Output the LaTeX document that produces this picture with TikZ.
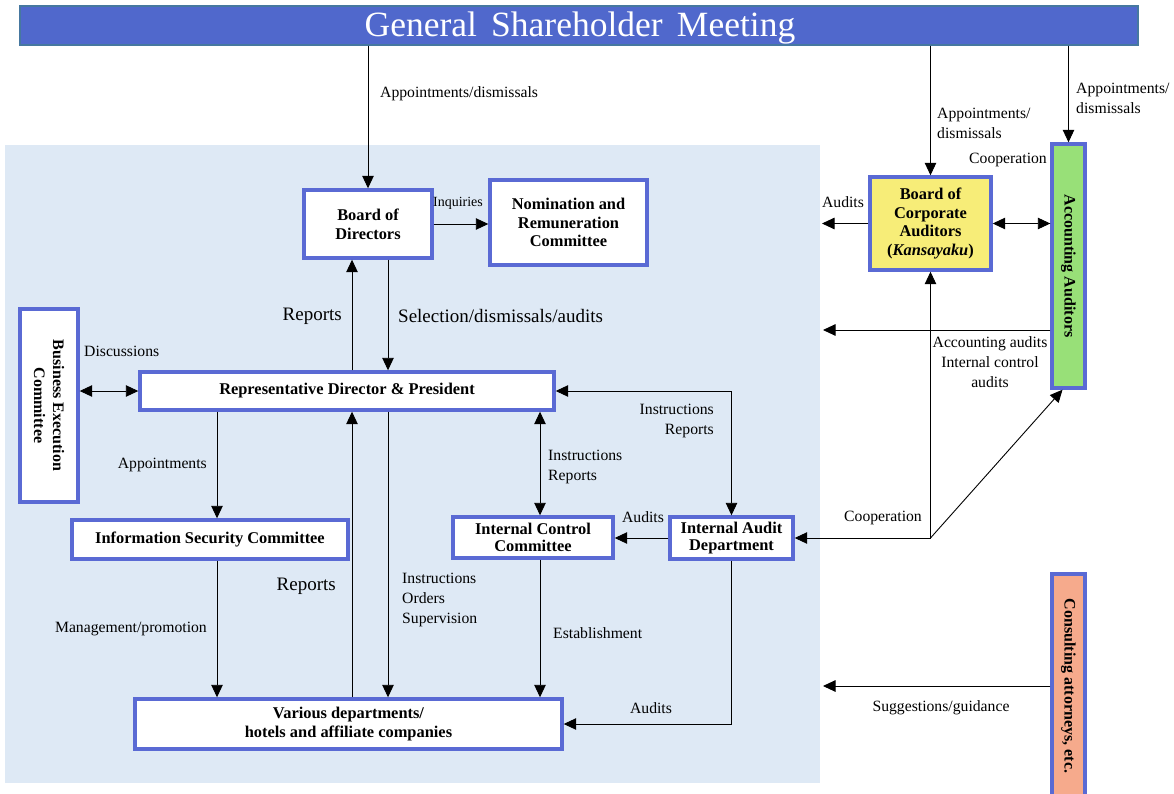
\documentclass[tikz,border=0pt]{standalone}
\usepackage{fontspec}
\setmainfont{Liberation Serif}
\usetikzlibrary{arrows.meta}
\definecolor{barfill}{RGB}{80,104,204}
\definecolor{barline}{RGB}{70,120,160}
\definecolor{boxline}{RGB}{90,106,212}
\definecolor{bgblue}{RGB}{222,233,245}
\definecolor{yel}{RGB}{247,237,120}
\definecolor{grn}{RGB}{152,224,120}
\definecolor{sal}{RGB}{246,170,140}
\tikzset{
  box/.style={draw=boxline, line width=3.4pt, fill=white, align=center, inner sep=0pt,
    font=\fontsize{16.4}{18.8}\selectfont\bfseries},
  arr/.style={line width=0.9pt, -{Triangle[length=12.5pt,width=11.5pt]}},
  dbl/.style={line width=0.9pt, {Triangle[length=12.5pt,width=11.5pt]}-{Triangle[length=12.5pt,width=11.5pt]}},
  lab/.style={inner sep=0pt, align=left, font=\fontsize{15.7}{20}\selectfont},
  biglab/.style={inner sep=0pt, align=left, font=\fontsize{19}{22}\selectfont},
}
\begin{document}
\begin{tikzpicture}[x=1pt,y=-1pt]
\useasboundingbox (0,0) rectangle (1174,794);
\clip (0,0) rectangle (1174,794);
\fill[white] (0,0) rectangle (1174,794);
\fill[bgblue] (5,145) rectangle (820,783);

% nodes
\node[fill=barfill, draw=barline, line width=1.2pt, minimum width=1118pt, minimum height=39pt,
  inner sep=0pt] (gsm) at (579,25.5) {};
\node[inner sep=0pt, text=white, font=\fontsize{35.5}{40}\selectfont] (gsmtext) at (580,28) {General\hspace{0.4em}Shareholder\hspace{0.4em}Meeting};
\node[box, minimum width=128pt, minimum height=68pt] (bod) at (368,224) {Board of\\Directors};
\node[box, minimum width=157pt, minimum height=85pt] (nom) at (568.5,222.5) {Nomination and\\Remuneration\\Committee};
\node[box, minimum width=58pt, minimum height=193pt] (bec) at (49,405.5) {};
\node[rotate=-90, inner sep=0pt, align=center, font=\fontsize{16}{19}\selectfont\bfseries] (bectext) at (bec.center) {Business Execution\\Committee};
\node[box, minimum width=414pt, minimum height=38pt] (rep) at (347,391) {Representative Director \& President};
\node[box, minimum width=276pt, minimum height=39pt] (isc) at (210,539.5) {Information Security Committee};
\node[box, minimum width=160pt, minimum height=41pt, font=\fontsize{16.4}{17}\selectfont\bfseries] (icc) at (533,537.5) {Internal Control\\Committee};
\node[box, minimum width=123pt, minimum height=42pt, font=\fontsize{16.4}{17}\selectfont\bfseries] (iad) at (731.5,538) {Internal Audit\\Department};
\node[box, minimum width=427pt, minimum height=50pt] (var) at (348.5,724) {Various departments/\\hotels and affiliate companies};
\node[box, fill=yel, minimum width=121pt, minimum height=93pt] (bca) at (930.5,223.5) {Board of\\Corporate\\Auditors\\(\textit{Kansayaku})};
\node[box, fill=grn, minimum width=33pt, minimum height=244pt] (acc) at (1068.5,266) {};
\node[rotate=-90, inner sep=0pt, font=\fontsize{16}{19}\selectfont\bfseries] (acctext) at (acc.center) {Accounting Auditors};
\node[box, fill=sal, minimum width=33pt, minimum height=240pt] (con) at (1068.5,694) {};
\node[rotate=-90, inner sep=0pt, font=\fontsize{16}{19}\selectfont\bfseries] (context) at (1068.5,686) {Consulting attorneys, etc.};

% free ends
\coordinate (a1) at (822,221);
\coordinate (a2) at (823,330);
\coordinate (a3) at (823,686);
\coordinate (j) at (bca.south |- iad.east);

% connectors
\draw[arr] (gsm.south -| bod.north) -- (bod.north);
\node[lab, anchor=west] (l1) at (380,94) {Appointments/dismissals};
\draw[arr] (gsm.south -| bca.north) -- (bca.north);
\node[lab, anchor=west] (l2) at (937,123) {Appointments/\\dismissals};
\draw[arr] (gsm.south -| acc.north) -- (acc.north);
\node[lab, anchor=west] (l3) at (1076,98) {Appointments/\\dismissals};

\draw[dbl] (bca.east) -- (bca.east -| acc.west);
\node[lab, anchor=east] (l4) at (1047,160) {Cooperation};
\draw[arr] (bca.west) -- (bca.west -| a1);
\node[lab] (l5) at (843,202) {Audits};
\draw[arr] (acc.west |- a2) -- (a2);
\node[lab, align=center] (l6) at (990,362) {Accounting audits\\Internal control\\audits};

\draw[arr] (j) -- (iad.east);
\draw[arr] (j) -- (bca.south);
\draw[arr] (j) -- ([xshift=-6pt]acc.south);
\node[lab, anchor=east] (l7) at (922,518) {Cooperation};

\draw[arr] (bod.east) -- (nom.west |- bod.east);
\node[inner sep=0pt, font=\fontsize{14}{16}\selectfont] (l8) at (458,203) {Inquiries};

\draw[arr] ([xshift=5pt]rep.north) -- ([xshift=5pt]rep.north |- bod.south);
\draw[arr] ([xshift=20pt]bod.south) -- ([xshift=20pt]bod.south |- rep.north);
\node[biglab, anchor=east] (l9) at (342,316) {Reports};
\node[biglab, anchor=west] (l10) at (398,316) {Selection/dismissals/audits};

\draw[dbl] (bec.east |- rep.west) -- (rep.west);
\node[lab, anchor=west] (l11) at (84,351) {Discussions};

\draw[arr] ([xshift=7pt]isc.north |- rep.south) -- ([xshift=7pt]isc.north);
\node[lab, anchor=east] (l12) at (207,465) {Appointments};
\draw[arr] ([xshift=7pt]isc.south) -- ([xshift=7pt]isc.south |- var.north);
\node[lab, anchor=east] (l13) at (207,629) {Management/promotion};

\draw[arr] ([xshift=5pt]rep.south |- var.north) -- ([xshift=5pt]rep.south);
\node[biglab, anchor=east] (l14) at (336,586) {Reports};
\draw[arr] ([xshift=41pt]rep.south) -- ([xshift=41pt]rep.south |- var.north);
\node[lab, anchor=west] (l15) at (402,600) {Instructions\\Orders\\Supervision};

\draw[dbl] ([xshift=7pt]icc.north |- rep.south) -- ([xshift=7pt]icc.north);
\node[lab, anchor=west] (l16) at (548,467) {Instructions\\Reports};
\draw[dbl] (rep.east) -| (iad.north);
\node[lab, anchor=east, align=right] (l17) at (714,421) {Instructions\\Reports};

\draw[arr] (iad.west) -- (icc.east |- iad.west);
\node[lab] (l18) at (643,517) {Audits};
\draw[arr] ([xshift=7pt]icc.south) -- ([xshift=7pt]icc.south |- var.north);
\node[lab, anchor=west] (l19) at (553,633) {Establishment};
\draw[arr] (iad.south) |- (var.east);
\node[lab] (l20) at (651,708) {Audits};

\draw[arr] (con.west |- a3) -- (a3);
\node[lab] (l21) at (941,708) {Suggestions/guidance};
\end{tikzpicture}
\end{document}
